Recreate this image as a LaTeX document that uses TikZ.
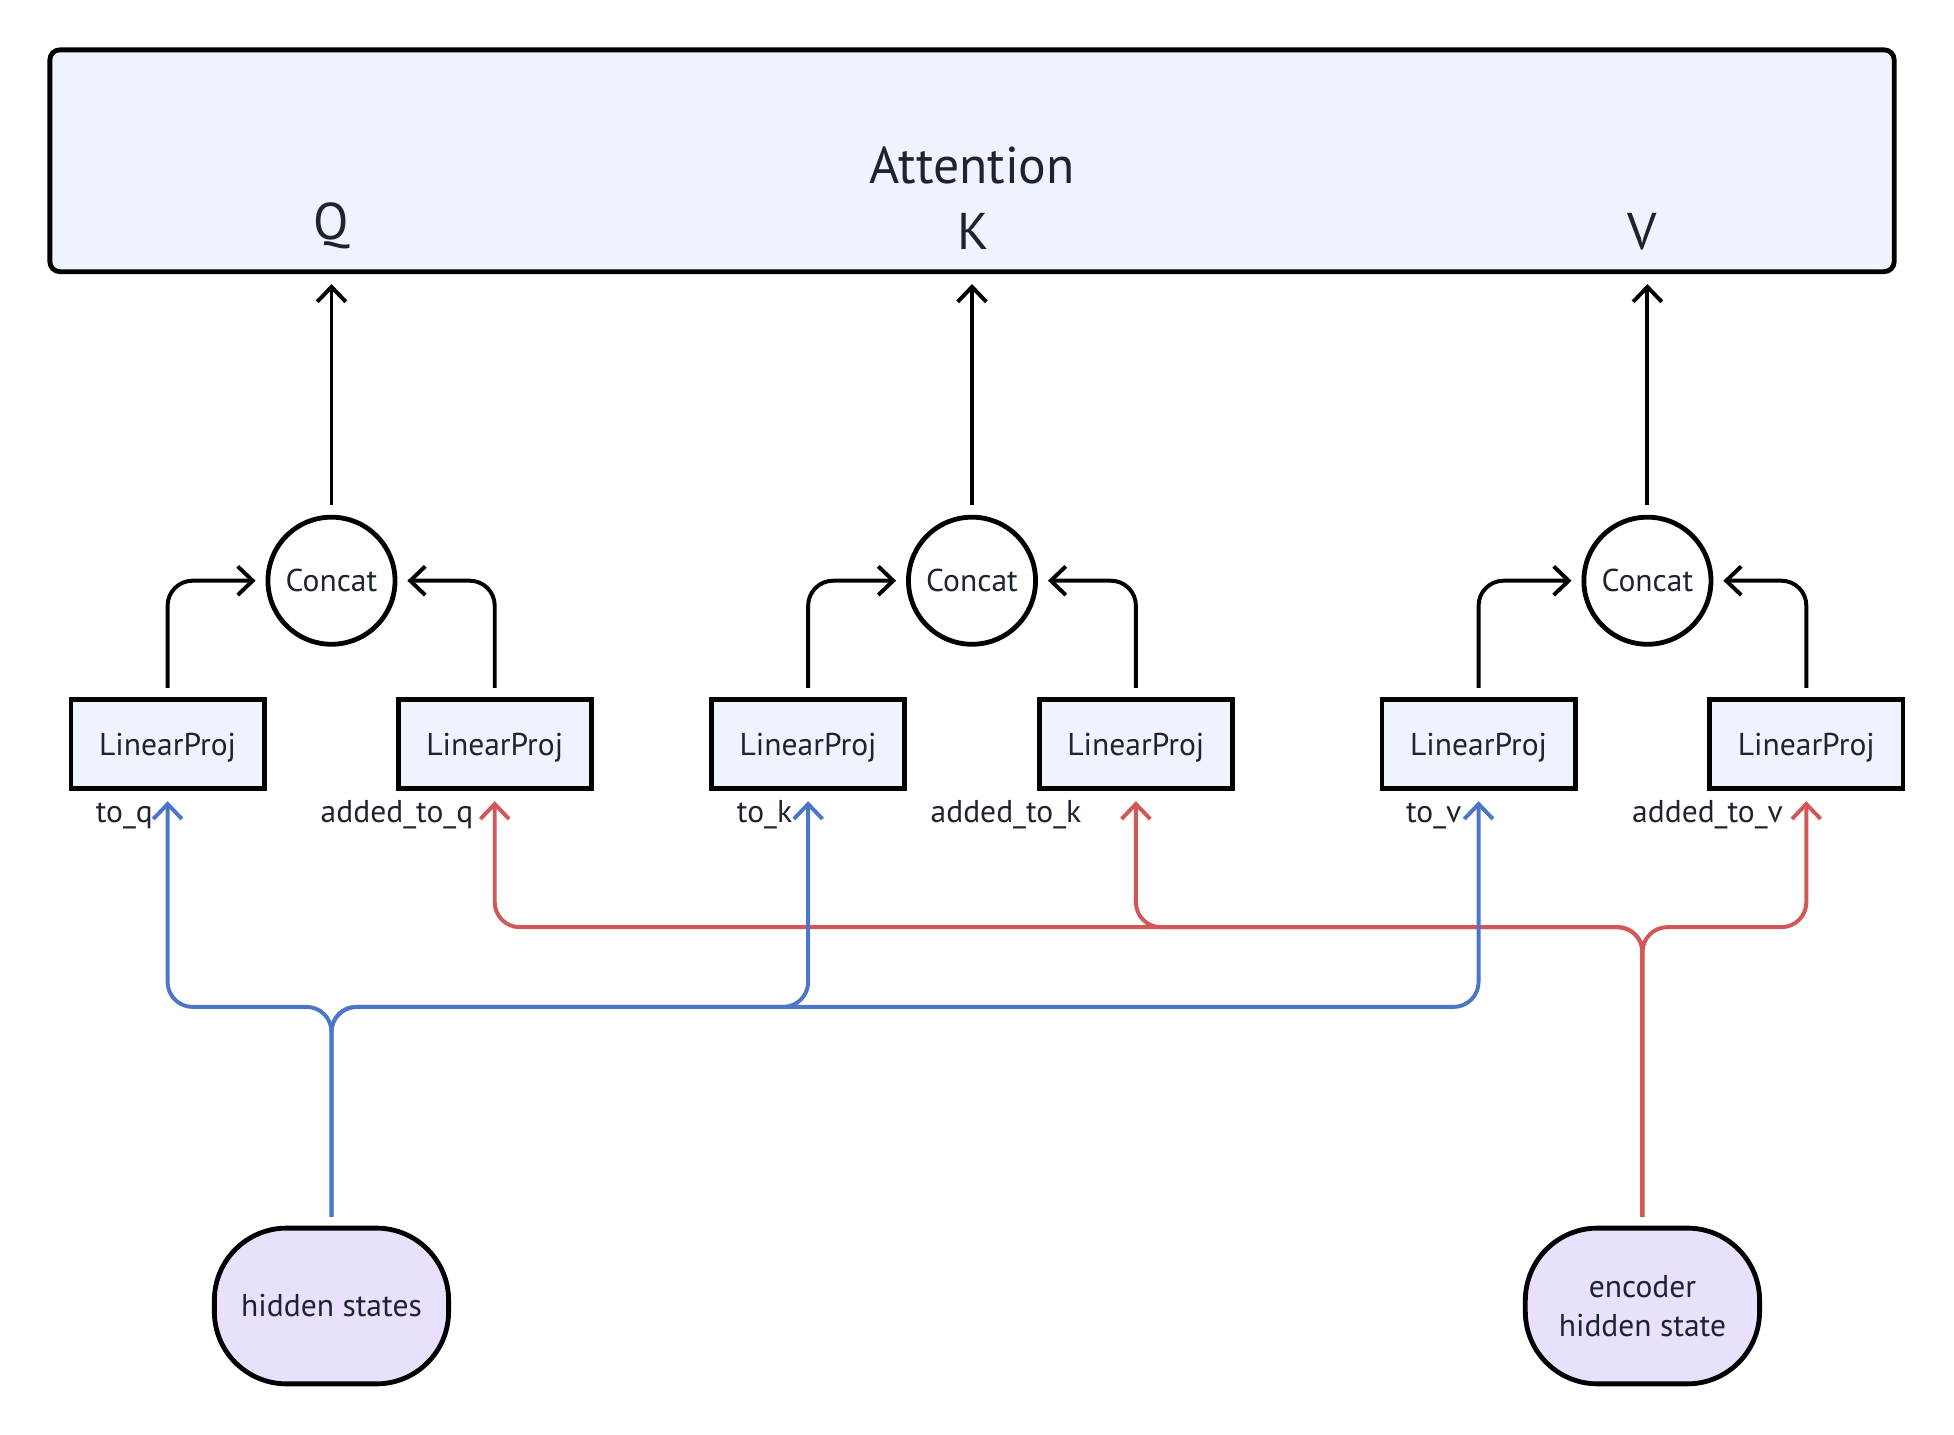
\documentclass[tikz,border=0pt]{standalone}
\usepackage{fontspec}
\setmainfont{PT Sans}
\usetikzlibrary{arrows.meta}

\definecolor{boxfill}{HTML}{EEF3FC}
\definecolor{termfill}{HTML}{E8E0FD}
\definecolor{hsblue}{HTML}{4D76C9}
\definecolor{encred}{HTML}{D45757}
\definecolor{ink}{HTML}{1E2330}

\begin{document}
\begin{tikzpicture}[x=0.1mm, y=-0.1mm, line width=0.9pt,
    >={Straight Barb[length=1.2mm, width=2.3mm]},
    every node/.style={text=ink, font=\fontsize{7.2}{9}\selectfont},
    bigtxt/.style={font=\fontsize{11.8}{14}\selectfont},
    attnbox/.style={draw=black, fill=boxfill, rounded corners=0.8mm, line width=1.1pt},
    projbox/.style={draw=black, fill=boxfill, line width=1.1pt, minimum width=15.5mm, minimum height=7.2mm, inner sep=0pt, text depth=0pt},
    concat/.style={circle, draw=black, line width=1.1pt, minimum size=10.2mm, inner sep=0pt},
    inputnode/.style={draw=black, fill=termfill, rounded corners=5.8mm, line width=1.1pt, minimum width=18.8mm, minimum height=12.5mm, align=center},
    flow/.style={->, rounded corners=2mm, shorten <=0.7mm, shorten >=0.8mm},
    hsflow/.style={flow, draw=hsblue},
    encflow/.style={flow, draw=encred}]
    \useasboundingbox (0,0) rectangle (1568,1151);

    % attention block
    \node[attnbox, minimum width=148mm, minimum height=17.8mm] (attn) at (780,129) {};
    \node[bigtxt, anchor=base] (attntxt) at (780,147) {Attention};
    \node[bigtxt, anchor=base] (qin) at (266,192) {Q};
    \node[bigtxt, anchor=base] (kin) at (781,200) {K};
    \node[bigtxt, anchor=base] (vin) at (1318,200) {V};

    % concat nodes
    \node[concat] (cq) at (266,466) {Concat};
    \node[concat] (ck) at (780,466) {Concat};
    \node[concat] (cv) at (1322,466) {Concat};

    % projections
    \node[projbox] (pq) at (134.5,597) {LinearProj};
    \node[projbox] (paq) at (397,597) {LinearProj};
    \node[projbox] (pk) at (648.5,597) {LinearProj};
    \node[projbox] (pak) at (911.5,597) {LinearProj};
    \node[projbox] (pv) at (1186.5,597) {LinearProj};
    \node[projbox] (pav) at (1449.5,597) {LinearProj};

    \node[anchor=base east] (lq) at (136,660) {to\_q};
    \node[anchor=base east] (laq) at (393,660) {added\_to\_q};
    \node[anchor=base east] (lk) at (649,660) {to\_k};
    \node[anchor=base east] (lak) at (881,660) {added\_to\_k};
    \node[anchor=base east] (lv) at (1186,660) {to\_v};
    \node[anchor=base east] (lav) at (1444,660) {added\_to\_v};

    % inputs
    \node[inputnode] (hs) at (266,1048) {hidden states};
    \node[inputnode] (enc) at (1318,1048) {encoder\\hidden state};

    % projections into concat
    \draw[flow] (pq.north) |- (cq.west);
    \draw[flow] (paq.north) |- (cq.east);
    \draw[flow] (pk.north) |- (ck.west);
    \draw[flow] (pak.north) |- (ck.east);
    \draw[flow] (pv.north) |- (cv.west);
    \draw[flow] (pav.north) |- (cv.east);

    % concat into attention
    \draw[->, shorten <=0.8mm, shorten >=0.8mm] (cq.north) -- (cq.north |- attn.south);
    \draw[->, shorten <=0.8mm, shorten >=0.8mm] (ck.north) -- (ck.north |- attn.south);
    \draw[->, shorten <=0.8mm, shorten >=0.8mm] (cv.north) -- (cv.north |- attn.south);

    % buses
    \coordinate (encbus) at (0,744);
    \coordinate (hsbus) at (0,808);

    \draw[encflow] (enc.north) -- (enc.north |- encbus) -| (paq.south);
    \draw[encflow] (enc.north) -- (enc.north |- encbus) -| (pak.south);
    \draw[encflow] (enc.north) -- (enc.north |- encbus) -| (pav.south);

    \draw[hsflow] (hs.north) -- (hs.north |- hsbus) -| (pq.south);
    \draw[hsflow] (hs.north) -- (hs.north |- hsbus) -| (pk.south);
    \draw[hsflow] (hs.north) -- (hs.north |- hsbus) -| (pv.south);
\end{tikzpicture}
\end{document}
